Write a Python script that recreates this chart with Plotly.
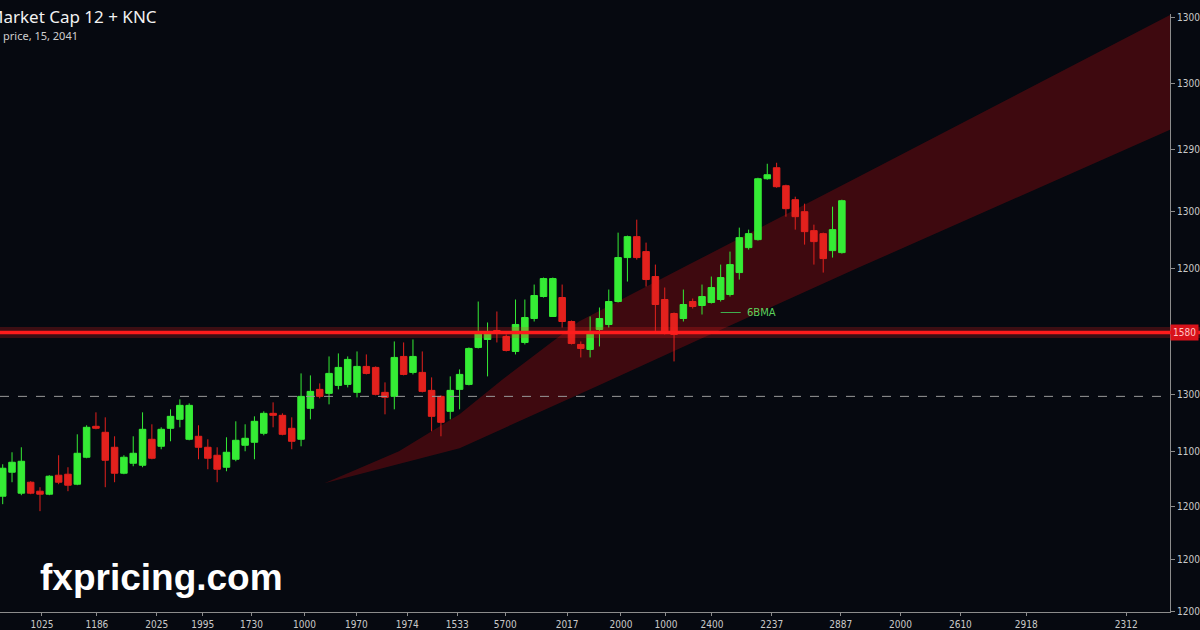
import plotly.graph_objects as go

# ---- data ----
candle_idx = list(range(91))
opens = [1057.5, 1069.5, 1059, 1064.5, 1060, 1058.5, 1068, 1068.5, 1063.5, 1077,
         1092.5, 1089.5, 1082, 1069, 1074, 1073, 1086, 1082.5, 1091.5, 1096,
         1086, 1087.5, 1082, 1078, 1072, 1076, 1083, 1084.5, 1089, 1099,
         1098, 1091.5, 1086, 1101.5, 1111, 1109, 1113, 1113.5, 1109.5, 1122.5,
         1122, 1109.5, 1107.5, 1127.5, 1119.5, 1119.5, 1110.5, 1107.5, 1100, 1111,
         1113.5, 1132, 1136, 1140.5, 1137.5, 1130, 1134.5, 1146.5, 1157.5, 1147.5,
         1157, 1145, 1133.5, 1131, 1141, 1143.5, 1155, 1177, 1187.5, 1180,
         1167.5, 1156, 1149, 1146.5, 1155, 1153, 1154.5, 1156, 1158.5, 1169.5,
         1182, 1186, 1216.5, 1222, 1213, 1206, 1200, 1190.5, 1189, 1180.5,
         1179.5]
highs = [1073.5, 1079.5, 1082, 1065, 1062, 1068, 1078, 1072, 1088.5, 1093,
         1099.5, 1097, 1087.5, 1078, 1087.5, 1099.5, 1093.5, 1092, 1101, 1106,
         1104, 1093, 1086, 1082, 1087, 1095, 1093.5, 1097.5, 1100, 1104.5,
         1099, 1097, 1119, 1118, 1114, 1127.5, 1129, 1127.5, 1130, 1128.5,
         1122.5, 1114.5, 1135, 1134.5, 1136, 1130, 1117, 1108, 1117.5, 1121,
         1132, 1155, 1144.5, 1150, 1138.5, 1156, 1156, 1163.5, 1167, 1167,
         1163.5, 1145.5, 1135, 1147.5, 1152, 1161, 1189.5, 1188, 1196, 1184.5,
         1173.5, 1162, 1149.5, 1161, 1156.5, 1163.5, 1167.5, 1173.5, 1180, 1192,
         1191, 1217, 1224, 1224.5, 1213.5, 1207.5, 1204, 1193.5, 1189.5, 1202.5,
         1206]
lows = [1053.5, 1064.5, 1058, 1058.5, 1050, 1058, 1063.5, 1060, 1063, 1076.5,
        1091, 1062, 1064.5, 1068.5, 1072.5, 1072, 1076, 1081, 1085, 1092,
        1085.5, 1076, 1071, 1064.5, 1070, 1075, 1080, 1076, 1088, 1092,
        1088, 1081, 1082.5, 1096, 1106.5, 1103.5, 1111, 1112, 1107, 1118.5,
        1108, 1098.5, 1101, 1118, 1118.5, 1109.5, 1090, 1087.5, 1096, 1101,
        1113, 1131.5, 1117.5, 1134.5, 1130, 1128.5, 1133.5, 1145, 1157, 1147.5,
        1142, 1133.5, 1127, 1127, 1132.5, 1142, 1154.5, 1165, 1176, 1162.5,
        1140, 1138.5, 1125, 1145, 1151.5, 1148.5, 1154, 1155, 1157.5, 1166,
        1181, 1185.5, 1216, 1212, 1197.5, 1191, 1183.5, 1173.5, 1169.5, 1177,
        1179]
closes = [1071.5, 1074.5, 1075, 1059, 1058.5, 1067.5, 1064.5, 1063, 1079, 1092,
          1091.5, 1075.5, 1069, 1077, 1079, 1091, 1076.5, 1091, 1097.5, 1103,
          1103, 1082, 1076.5, 1071, 1079.5, 1085.5, 1086.5, 1095, 1099, 1098,
          1088.5, 1085, 1107.5, 1110, 1107.5, 1119, 1122, 1126, 1122.5, 1119,
          1108.5, 1107, 1127, 1118.5, 1127.5, 1110, 1097.5, 1094.5, 1110.5, 1118.5,
          1131.5, 1139, 1139, 1139, 1130.5, 1143.5, 1147, 1158, 1166.5, 1166.5,
          1145, 1134, 1131.5, 1139.5, 1146.5, 1155, 1177, 1187.5, 1177, 1166,
          1153.5, 1139.5, 1138.5, 1153.5, 1152.5, 1157.5, 1162, 1167, 1173.5, 1187,
          1189, 1216.5, 1218.5, 1212.5, 1201.5, 1197.5, 1190, 1185, 1176.5, 1191,
          1205.5]

x_tick_pos = [4.21, 10.10, 16.52, 21.45, 26.69, 32.37, 37.93, 43.39, 48.75, 53.89,
              60.53, 66.31, 71.13, 76.06, 82.48, 89.87, 96.29, 102.71, 109.78, 120.49]
x_tick_text = ["1025", "1186", "2025", "1995", "1730", "1000", "1970", "1974", "1533", "5700",
               "2017", "2000", "1000", "2400", "2237", "2887", "2000", "2610", "2918", "2312"]

y_tick_pos = [1000, 1026, 1052.5, 1080, 1108.5, 1171.5, 1200, 1231, 1264, 1297]
y_tick_text = ["1200", "1200", "1200", "1100", "1300", "1200", "1300", "1290", "1300", "1300"]

resistance_level = 1139.5
resistance_label = "1580"
dashed_level = 1107.5

channel_x_upper = [34.5, 42.5, 49.0, 53.6, 61.8, 73.6, 91.8, 125.2]
channel_y_upper = [1064, 1080, 1098.5, 1116, 1145, 1173.5, 1217.5, 1298.5]
channel_x_lower = [34.5, 49.0, 63.9, 74.7, 91.8, 125.2]
channel_y_lower = [1064, 1081.5, 1113, 1136, 1172, 1241]

ema_label = "6BMA"
ema_label_x = [77.0, 79.15]
ema_label_y = 1149.5

title_text = "Market Cap 12 + KNC"
subtitle_text = "price, 15, 2041"
watermark = "fxpricing.com"

BG = "#060910"
GREEN = "#35ec35"
RED = "#e3211d"
AXIS = "#8c8c8c"
TICKFONT = dict(family="Liberation Sans Narrow, DejaVu Sans Condensed, Arial Narrow, sans-serif",
                size=10, color="#c9c9c9")

fig = go.Figure()

# candles
fig.add_trace(go.Candlestick(
    x=candle_idx, open=opens, high=highs, low=lows, close=closes,
    increasing=dict(line=dict(color=GREEN, width=1), fillcolor=GREEN),
    decreasing=dict(line=dict(color=RED, width=1), fillcolor=RED),
    whiskerwidth=0, showlegend=False))

# channel band as a path shape drawn below the candles
poly_x = channel_x_upper + channel_x_lower[::-1]
poly_y = channel_y_upper + channel_y_lower[::-1]
band_path = "M " + " L ".join(f"{px},{py}" for px, py in zip(poly_x, poly_y)) + " Z"

shapes = [
    dict(type="path", xref="x", yref="y", path=band_path,
         fillcolor="rgba(128,10,16,0.46)", line=dict(width=0), layer="below"),
    dict(type="line", xref="paper", x0=0, x1=1, yref="y", y0=dashed_level, y1=dashed_level,
         line=dict(color="#9a9a9a", width=1, dash="dash"), layer="above"),
    dict(type="line", xref="paper", x0=0, x1=1.03, yref="y", y0=resistance_level, y1=resistance_level,
         line=dict(color="rgba(255,30,30,0.22)", width=11), layer="above"),
    dict(type="line", xref="paper", x0=0, x1=1.03, yref="y", y0=resistance_level, y1=resistance_level,
         line=dict(color="#ff1c1c", width=3.5), layer="above"),
    dict(type="line", xref="x", x0=ema_label_x[0], x1=ema_label_x[1], yref="y",
         y0=ema_label_y, y1=ema_label_y, line=dict(color="#3fae4f", width=1), layer="above"),
]

annotations = [
    dict(text=title_text, xref="paper", yref="y", x=-14 / 1172, y=1297.5, xanchor="left",
         yanchor="middle", showarrow=False,
         font=dict(family="Noto Sans, Open Sans, sans-serif", size=17, color="#f2f2f2")),
    dict(text=subtitle_text, xref="paper", yref="y", x=1 / 1172, y=1288, xanchor="left",
         yanchor="middle", showarrow=False,
         font=dict(family="Noto Sans, Open Sans, sans-serif", size=11, color="#cfcfcf")),
    dict(text="<b>" + watermark + "</b>", xref="paper", yref="y", x=38 / 1172, y=1017,
         xanchor="left", yanchor="middle", showarrow=False,
         font=dict(family="Liberation Sans, Arial, sans-serif", size=37, color="#ffffff")),
    dict(text=ema_label, xref="x", yref="y", x=79.6, y=ema_label_y, xanchor="left",
         yanchor="middle", showarrow=False,
         font=dict(family="DejaVu Sans, sans-serif", size=10, color="#5cd05c")),
    dict(text=resistance_label, xref="paper", yref="y", x=1.0, y=resistance_level,
         xanchor="left", yanchor="middle", showarrow=False, bgcolor="#d8121a",
         borderpad=2, font=dict(family="DejaVu Sans Condensed, sans-serif", size=10,
                                color="#ffc4c4")),
]

fig.update_layout(
    width=1200, height=630,
    margin=dict(l=0, r=28, t=14, b=17),
    paper_bgcolor=BG, plot_bgcolor=BG,
    showlegend=False, boxgap=0.3, boxgroupgap=0,
    shapes=shapes, annotations=annotations,
    xaxis=dict(range=[-0.289, 125.19], showgrid=False, zeroline=False,
               showline=True, linecolor=AXIS, linewidth=1,
               ticks="outside", ticklen=3, tickcolor=AXIS,
               tickvals=x_tick_pos, ticktext=x_tick_text, tickfont=TICKFONT,
               rangeslider=dict(visible=False), fixedrange=True),
    yaxis=dict(range=[999.5, 1299], side="right", showgrid=False, zeroline=False,
               showline=True, linecolor=AXIS, linewidth=1,
               ticks="outside", ticklen=4, tickcolor=AXIS,
               tickvals=y_tick_pos, ticktext=y_tick_text, tickfont=TICKFONT,
               fixedrange=True),
)

fig.write_html("out.html",
               config={"displayModeBar": False},
               post_script="document.body.style.margin='0';"
                           "document.body.style.background='" + BG + "';")
